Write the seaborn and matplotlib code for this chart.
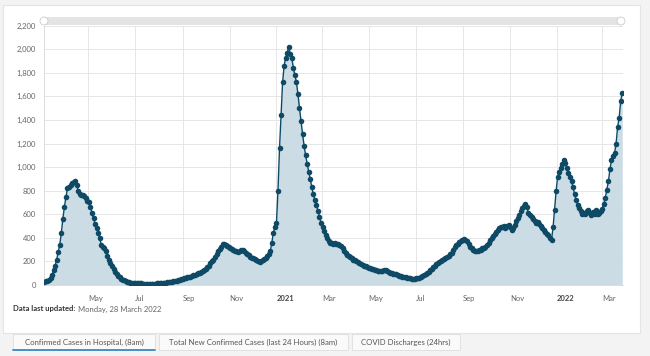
import matplotlib
matplotlib.use("Agg")
import matplotlib.pyplot as plt
from matplotlib.patches import Rectangle, FancyBboxPatch, Ellipse
import seaborn as sns
import pandas as pd

sns.set_theme(style="white")
plt.rcParams["font.family"] = ["Lato", "DejaVu Sans"]

# confirmed cases in hospital, one value every second day from 5 Mar 2020
cases = [
    # Mar 2020
    25, 30, 38, 45, 57, 85, 127, 165, 215, 280, 340, 440, 560, 660,
    # Apr
    745, 820, 835, 850, 862, 875, 880, 850, 800, 770, 760, 765, 755, 740, 715,
    # May
    700, 660, 610, 565, 520, 480, 440, 395, 340, 320, 312, 290, 245, 212, 185,
    # Jun
    160, 135, 112, 92, 80, 68, 55, 46, 40, 33, 28, 24, 21, 19, 17,
    # Jul
    16, 15, 14, 14, 13, 12, 12, 11, 10, 11, 12, 11, 10, 12, 13, 14,
    # Aug
    14, 15, 16, 18, 20, 23, 25, 27, 29, 32, 35, 38, 41, 44, 48,
    # Sep
    52, 56, 60, 64, 68, 72, 78, 83, 88, 92, 98, 105, 113, 120, 128,
    # Oct
    138, 150, 165, 185, 200, 215, 240, 262, 290, 305, 325, 345, 352, 342, 335, 320,
    # Nov
    315, 308, 300, 292, 285, 282, 290, 298, 298, 288, 275, 262, 252, 240, 232,
    # Dec
    225, 218, 210, 203, 198, 200, 208, 220, 232, 245, 262, 285, 360, 440, 495,
    # Jan 2021
    525, 800, 1160, 1440, 1720, 1860, 1930, 1970, 2020, 1960, 1930, 1840, 1780, 1720, 1620, 1500,
    # Feb
    1390, 1280, 1180, 1100, 1030, 960, 900, 830, 770, 720, 680, 630, 580, 530,
    # Mar
    490, 455, 420, 395, 370, 360, 355, 350, 355, 348, 345, 340, 335, 310, 290,
    # Apr
    275, 258, 245, 235, 225, 215, 208, 200, 195, 188, 180, 172, 165, 158, 152,
    # May
    148, 142, 136, 132, 128, 124, 120, 118, 118, 122, 130, 128, 118, 110, 104, 98,
    # Jun
    96, 93, 90, 86, 80, 76, 72, 68, 64, 61, 58, 56, 55, 54, 55,
    # Jul
    56, 58, 60, 66, 74, 82, 90, 100, 112, 125, 138, 152, 165, 175, 185,
    # Aug
    192, 200, 210, 220, 230, 240, 250, 260, 272, 300, 325, 338, 350, 362, 375, 385,
    # Sep
    390, 385, 370, 345, 325, 310, 298, 288, 285, 290, 295, 300, 310, 318, 325,
    # Oct
    340, 360, 380, 398, 415, 430, 450, 470, 485, 490, 495, 498, 485, 500, 505,
    # Nov
    490, 465, 480, 510, 540, 565, 595, 625, 650, 670, 690, 660, 610, 590, 575,
    # Dec
    560, 540, 530, 535, 520, 500, 485, 465, 450, 435, 420, 400, 385, 490, 640, 800,
    # Jan 2022
    920, 960, 990, 1030, 1060, 1035, 990, 950, 915, 880, 830, 770, 720, 680, 655,
    # Feb
    630, 605, 615, 600, 625, 640, 610, 595, 620, 605, 635, 600, 615, 630,
    # Mar
    645, 690, 740, 810, 880, 980, 1060, 1095, 1120, 1200, 1340, 1420, 1560, 1630,
]
dates = pd.date_range(end="2022-03-27", periods=len(cases), freq="2D")

tick_dates = ["2020-05-01", "2020-07-01", "2020-09-01", "2020-11-01", "2021-01-01", "2021-03-01",
              "2021-05-01", "2021-07-01", "2021-09-01", "2021-11-01", "2022-01-01", "2022-03-01"]
tick_labels = ["May", "Jul", "Sep", "Nov", "2021", "Mar", "May", "Jul", "Sep", "Nov", "2022", "Mar"]
y_ticks = [0, 200, 400, 600, 800, 1000, 1200, 1400, 1600, 1800, 2000, 2200]

tabs = ["Confirmed Cases in Hospital, (8am)", "Total New Confirmed Cases (last 24 Hours) (8am)",
        "COVID Discharges (24hrs)"]

DARK = "#0e4a66"
FILL = "#cbdce4"
GRID = "#e6e6e6"
TXT = "#666666"

W, H = 650, 356
fig = plt.figure(figsize=(W / 100, H / 100), dpi=100, facecolor="#f3f3f3")

# white card behind the chart
fig.patches.append(Rectangle((3 / W, 1 - 333 / H), 637 / W, 328 / H, transform=fig.transFigure,
                             facecolor="white", edgecolor="#e4e4e4", linewidth=0.8, zorder=-5))

ax = fig.add_axes([44 / W, 1 - 285 / H, 579 / W, 259.3 / H])
ax.set_facecolor("none")

df = pd.DataFrame({"date": dates, "cases": cases})
ax.fill_between(df["date"], df["cases"], color=FILL, linewidth=0, zorder=1)
sns.lineplot(data=df, x="date", y="cases", color=DARK, linewidth=1.0, marker="o",
             markersize=4.0, markeredgewidth=0, ax=ax, zorder=3)

ax.set_xlim(pd.Timestamp("2020-03-04 12:00"), pd.Timestamp("2022-03-28"))
ax.set_ylim(0, 2200)
ax.set_xticks(pd.to_datetime(tick_dates))
ax.set_xticklabels(tick_labels)
ax.set_yticks(y_ticks)
ax.set_yticklabels([f"{v:,}" for v in y_ticks])
ax.set_xlabel("")
ax.set_ylabel("")

ax.grid(True, color=GRID, linewidth=0.7, zorder=0)
ax.set_axisbelow(True)
for side in ["top", "right"]:
    ax.spines[side].set_visible(False)
ax.spines["left"].set_color("#dcdcdc")
ax.spines["bottom"].set_color("#dcdcdc")
ax.spines["left"].set_linewidth(0.7)
ax.spines["bottom"].set_linewidth(0.7)

ax.tick_params(axis="y", length=0, pad=6, labelsize=5.5, labelcolor=TXT)
ax.tick_params(axis="x", length=4, width=0.6, color="#dcdcdc", pad=3, labelsize=5.5, labelcolor=TXT)
for lab in ax.get_xticklabels():
    lab.set_horizontalalignment("left")
    if lab.get_text().isdigit():
        lab.set_fontweight("bold")
        lab.set_color("#444444")

# range selector bar along the top
fig.patches.append(FancyBboxPatch((44 / W, 1 - 25 / H), 577 / W, 8 / H, transform=fig.transFigure,
                                  boxstyle="round,pad=0,rounding_size=0.006",
                                  facecolor="#e4e4e4", edgecolor="none", zorder=2))
for hx in [44, 621]:
    fig.patches.append(Ellipse((hx / W, 1 - 21 / H), 8 / W, 8 / H, transform=fig.transFigure,
                               facecolor="white", edgecolor="#cccccc", linewidth=0.6, zorder=3))

fig.text(13 / W, 1 - 309 / H, "Data last updated:", fontsize=5.5, fontweight="bold",
         color="#333333", va="center")
fig.text(78 / W, 1 - 309 / H, "Monday, 28 March 2022", fontsize=5.5, color=TXT, va="center")

tab_x = [(13, 155), (159, 348), (352, 460)]
for (x0, x1), label in zip(tab_x, tabs):
    fig.patches.append(Rectangle((x0 / W, 1 - 350 / H), (x1 - x0) / W, 16 / H,
                                 transform=fig.transFigure, facecolor="#fafafa",
                                 edgecolor="#dddddd", linewidth=0.6, zorder=1))
    fig.text((x0 + x1) / 2 / W, 1 - 342 / H, label, fontsize=5.6, color="#555555",
             ha="center", va="center")
fig.lines.append(plt.Line2D([13 / W, 155 / W], [1 - 350 / H, 1 - 350 / H],
                            transform=fig.transFigure, color="#2f7fbf", linewidth=1.2))

fig.savefig("out.png", dpi=100, facecolor=fig.get_facecolor())
